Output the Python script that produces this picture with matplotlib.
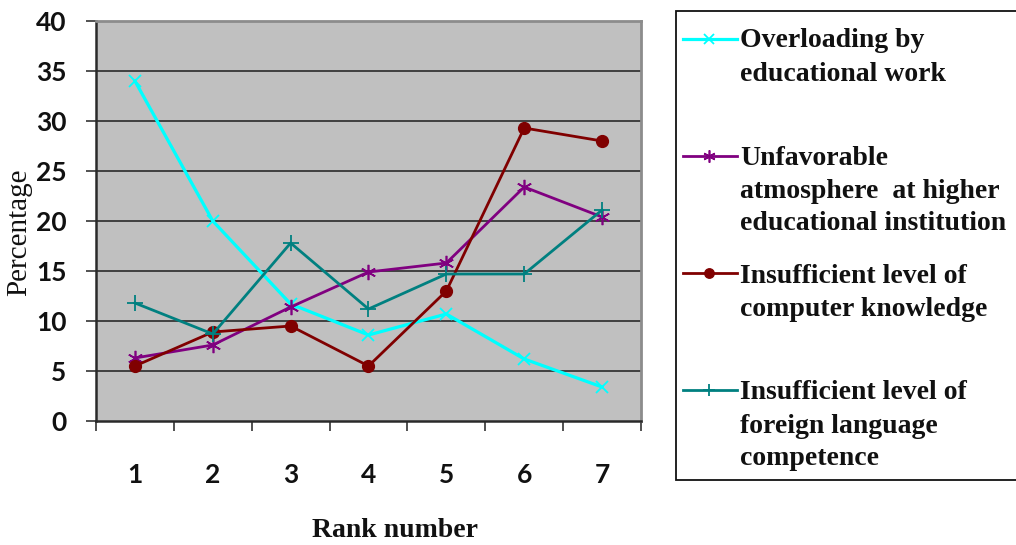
import matplotlib
matplotlib.use("Agg")
import matplotlib.pyplot as plt
from matplotlib.lines import Line2D
from matplotlib.patches import Rectangle

# Survey data: share of respondents (%) giving each rank to each problem
ranks = [1, 2, 3, 4, 5, 6, 7]
rank_labels = ["1", "2", "3", "4", "5", "6", "7"]
overloading = [34.0, 20.0, 11.7, 8.6, 10.7, 6.2, 3.4]
atmosphere = [6.3, 7.6, 11.4, 14.9, 15.8, 23.4, 20.4]
computer = [5.5, 8.9, 9.5, 5.5, 13.0, 29.3, 28.0]
language = [11.8, 8.7, 17.8, 11.2, 14.7, 14.7, 21.1]
y_ticks = [0, 5, 10, 15, 20, 25, 30, 35, 40]

legend_lines = [
    ["Overloading by", "educational work"],
    ["Unfavorable", "atmosphere  at higher", "educational institution"],
    ["Insufficient level of", "computer knowledge"],
    ["Insufficient level of", "foreign language", "competence"],
]

W, H = 1016, 545
fig = plt.figure(figsize=(W / 100, H / 100), dpi=100)


def fx(px):
    return px / W


def fy(py):
    return 1 - py / H


ax = fig.add_axes([fx(96), fy(421), fx(641) - fx(96), fy(21) - fy(421)])
ax.set_facecolor("#C0C0C0")

styles = [
    dict(color="#00FFFF", marker="x", markersize=9, markeredgewidth=1.3, linewidth=2.3),
    dict(color="#800080", marker=(6, 2, 0), markersize=11, markeredgewidth=1.2, linewidth=2.0),
    dict(color="#800000", marker="o", markersize=8.5, linewidth=2.0),
    dict(color="#008080", marker="+", markersize=11, markeredgewidth=1.3, linewidth=2.0),
]
series = [overloading, atmosphere, computer, language]
for vals, st in zip(series, styles):
    ax.plot(ranks, vals, zorder=3, **st)

ax.set_xlim(0.5, 7.5)
ax.set_ylim(0, 40)

# horizontal gridlines
for v in y_ticks[1:-1]:
    ax.axhline(v, color="#2a2a2a", linewidth=1.2, zorder=1)

ax.set_yticks(y_ticks)
ax.set_yticklabels([str(v) for v in y_ticks])
ax.set_xticks(ranks)
ax.set_xticklabels(rank_labels)
ax.set_xticks([r + 0.5 for r in [0] + ranks], minor=True)

for lab in ax.get_yticklabels() + ax.get_xticklabels():
    lab.set_fontfamily("Lato")
    lab.set_fontweight("bold")
    lab.set_fontsize(19)
    lab.set_color("#111111")

ax.tick_params(axis="y", which="major", direction="out", length=7.2, width=1.2,
               color="#333333", pad=14)
ax.tick_params(axis="x", which="major", length=0, pad=30)
ax.tick_params(axis="x", which="minor", direction="out", length=7.5, width=1.2,
               color="#333333")

for side in ["left", "bottom"]:
    ax.spines[side].set_color("#2a2a2a")
    ax.spines[side].set_linewidth(1.8)
for side in ["top", "right"]:
    ax.spines[side].set_color("#8c8c8c")
    ax.spines[side].set_linewidth(2.0)

# axis titles
fig.text(fx(19), fy(232), "Percentage", rotation=90, ha="center", va="center",
         family="Liberation Serif", fontsize=21, color="#111111")
fig.text(fx(395), fy(537), "Rank number", ha="center", va="baseline",
         family="Liberation Serif", fontweight="bold", fontsize=20, color="#111111")

# legend box
fig.patches.append(Rectangle((fx(676), fy(480)), fx(1030) - fx(676), fy(11) - fy(480),
                             transform=fig.transFigure, facecolor="white",
                             edgecolor="#111111", linewidth=1.3, zorder=0))

baselines = [[47, 81], [165, 198, 230], [283, 316], [399, 433, 465]]
handle_y = [39, 156, 273, 390]
for st, lines, bls, hy in zip(styles, legend_lines, baselines, handle_y):
    fig.add_artist(Line2D([fx(683), fx(737)], [fy(hy), fy(hy)],
                          transform=fig.transFigure, color=st["color"],
                          linewidth=st["linewidth"], zorder=2))
    mk = {k: v for k, v in st.items() if k.startswith("marker")}
    fig.add_artist(Line2D([fx(709)], [fy(hy)], transform=fig.transFigure,
                          color=st["color"], linestyle="none",
                          **{**mk, "markersize": mk["markersize"] * 0.8}))
    for text, bl in zip(lines, bls):
        fig.text(fx(740), fy(bl), text, ha="left", va="baseline",
                 family="Liberation Serif", fontweight="bold", fontsize=20,
                 color="#111111")

fig.savefig("out.png", dpi=100, facecolor="white")
